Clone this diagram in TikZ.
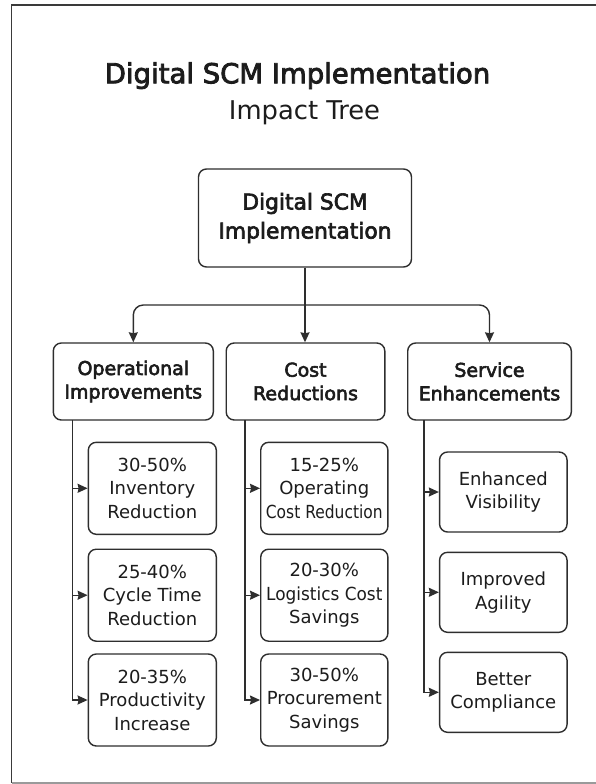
\documentclass[tikz,border=0pt]{standalone}
\usepackage{fontspec}
\usepackage{graphicx}
\setmainfont{DejaVu Sans}
\newfontfamily\semib{DejaVu Sans}[FakeBold=3]
\usetikzlibrary{arrows.meta}
\definecolor{txt}{HTML}{1C1C1C}
\definecolor{bc}{HTML}{2E2E2E}
\definecolor{framec}{HTML}{3A3A3A}
\definecolor{framebot}{HTML}{9A9A9A}
\tikzset{
  box/.style={draw=bc, line width=1.4pt, rounded corners=8pt, align=center, inner sep=0pt, text=txt},
  rootbox/.style={box, minimum width=213pt, minimum height=98pt, font=\semib\fontsize{21.8}{29}\selectfont},
  catbox/.style={box, minimum height=77pt, font=\semib\fontsize{19}{23.5}\selectfont},
  leafbox/.style={box, minimum width=128pt, minimum height=92pt, font=\fontsize{18}{23.5}\selectfont},
  svcbox/.style={box, minimum width=127.5pt, minimum height=80pt, font=\fontsize{18}{23.5}\selectfont},
  conn/.style={draw=bc, line width=1.4pt, -{Stealth[length=10pt,width=9pt,inset=1pt]}},
}
\begin{document}
\begin{tikzpicture}[x=1pt,y=-1pt]
\useasboundingbox (0,0) rectangle (595,784);
\fill[white] (0,0) rectangle (595,784);
\draw[framec, line width=1.5pt] (600,5) -- (11.5,5) -- (11.5,783);
\draw[framebot, line width=1.5pt] (11.5,783) -- (600,783);

% titles
\node[anchor=base, text=txt, inner sep=0pt, font=\semib\fontsize{27.5}{30}\selectfont] (title) at (297.5,83.3) {Digital SCM Implementation};
\node[anchor=base, text=txt, inner sep=0pt, font=\fontsize{25.8}{30}\selectfont] (subtitle) at (304.5,119) {Impact Tree};

% root
\node[rootbox] (root) at (305,218) {Digital SCM\\Implementation};

% categories
\node[catbox, minimum width=160pt] (op) at (133.3,381.5) {Operational\\Improvements};
\node[catbox, minimum width=158.6pt] (cost) at (305.5,381.5) {Cost\\Reductions};
\node[catbox, minimum width=163.6pt] (svc) at (489.5,381.5) {Service\\Enhancements};

% leaves
\node[leafbox] (o1) at (152.3,488.3) {30-50\%\\Inventory\\Reduction};
\node[leafbox] (o2) at (152.3,595.2) {25-40\%\\Cycle Time\\Reduction};
\node[leafbox] (o3) at (152.3,700) {20-35\%\\Productivity\\Increase};

\node[leafbox, minimum width=127.2pt] (c1) at (324.3,488.3) {15-25\%\\Operating\\\scalebox{0.86}[1]{Cost Reduction}};
\node[leafbox, minimum width=127.2pt] (c2) at (324.3,595.2) {20-30\%\\\scalebox{0.94}[1]{Logistics Cost}\\Savings};
\node[leafbox, minimum width=127.2pt] (c3) at (324.3,700) {30-50\%\\Procurement\\Savings};

\node[svcbox] (s1) at (503.3,492) {Enhanced\\Visibility};
\node[svcbox] (s2) at (503.3,592.3) {Improved\\Agility};
\node[svcbox] (s3) at (503.3,692.3) {Better\\Compliance};

% root connectors
\coordinate (bar) at (305,305);
\draw[conn] (root.south) -- (root.south |- cost.north);
\draw[conn, rounded corners=10pt] (bar) -| (op.north);
\draw[conn, rounded corners=10pt] (bar) -| (svc.north);

% trunks
\coordinate (opT) at (72.3,420);
\coordinate (costT) at (244.8,420);
\coordinate (svcT) at (424,420);
\draw[conn] (opT) |- (o1.west);
\draw[conn] (opT) |- (o2.west);
\draw[conn] (opT) |- (o3.west);
\draw[conn] (costT) |- (c1.west);
\draw[conn] (costT) |- (c2.west);
\draw[conn] (costT) |- (c3.west);
\draw[conn] (svcT) |- (s1.west);
\draw[conn] (svcT) |- (s2.west);
\draw[conn] (svcT) |- (s3.west);
\end{tikzpicture}
\end{document}
